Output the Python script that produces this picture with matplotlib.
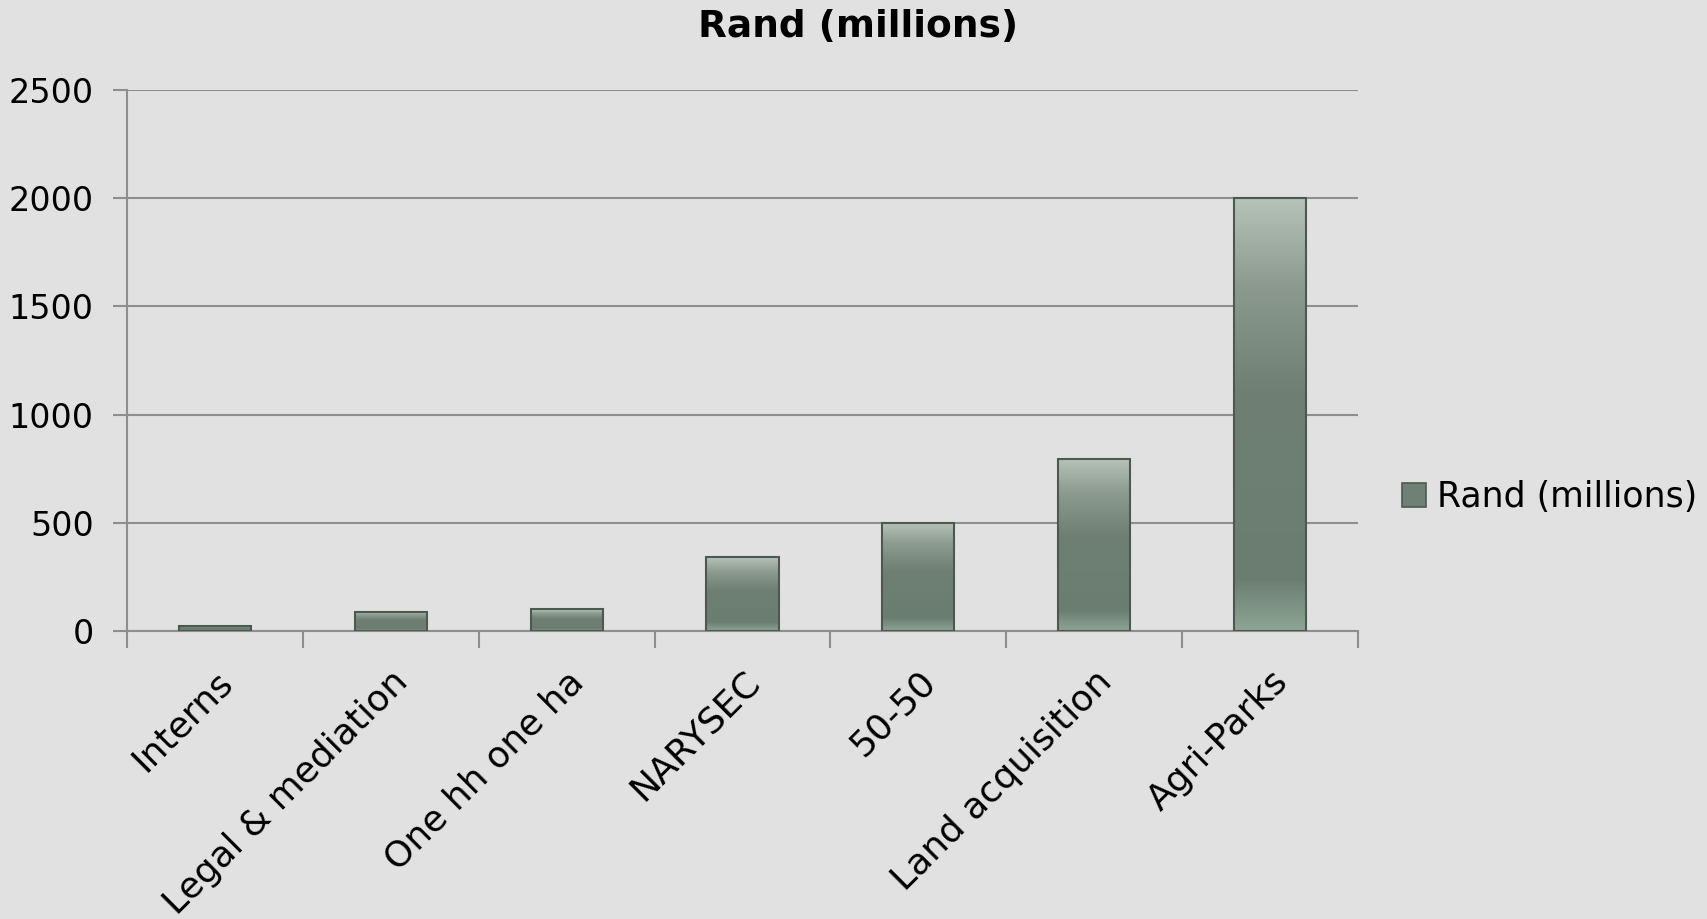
"""Rand (millions) bar chart with gradient-filled bars."""

import matplotlib.pyplot as plt
import numpy as np
from matplotlib.colors import LinearSegmentedColormap
from matplotlib.patches import Patch

categories = ["Interns", "Legal & mediation", "One hh one ha", "NARYSEC",
              "50-50", "Land acquisition", "Agri-Parks"]
values = [25, 90, 100, 340, 500, 795, 2000]
series_name = "Rand (millions)"

BG = "#e1e1e1"
GRID = "#8e8e8e"
EDGE = "#4b5a50"


def main() -> None:
    plt.rcParams["font.family"] = ["DejaVu Sans"]

    fig = plt.figure(figsize=(17.07, 9.19), dpi=100, facecolor=BG)
    ax = fig.add_axes([127 / 1707, 1 - 631 / 919, (1358 - 127) / 1707, (631 - 90) / 919])
    ax.set_facecolor(BG)

    x = np.arange(len(categories))
    bars = ax.bar(x, values, width=0.41, color="none", edgecolor=EDGE, linewidth=1.5, zorder=3)

    cmap = LinearSegmentedColormap.from_list(
        "bar", [(0.0, "#8da595"), (0.12, "#6b7d71"), (0.55, "#6f7f74"),
                (0.8, "#8c9a8f"), (1.0, "#b7c3b8")])
    grad = np.linspace(0, 1, 256).reshape(-1, 1)
    for rect in bars:
        x0, y0 = rect.get_x(), rect.get_y()
        w, h = rect.get_width(), rect.get_height()
        im = ax.imshow(grad, cmap=cmap, origin="lower", aspect="auto",
                       extent=(x0, x0 + w, y0, y0 + h), zorder=2)
        im.set_clip_path(rect)

    ax.set_xlim(-0.5, len(categories) - 0.5)
    ax.set_ylim(0, 2500)
    ax.set_yticks(np.arange(0, 2501, 500))
    ax.yaxis.grid(True, color=GRID, linewidth=1.5, zorder=1)
    ax.set_axisbelow(True)

    # category boundaries carry the tick marks, centres carry the labels
    ax.set_xticks(np.arange(-0.5, len(categories), 1.0))
    ax.set_xticklabels([])
    ax.set_xticks(x, minor=True)
    ax.set_xticklabels(categories, minor=True, rotation=45, ha="right",
                       rotation_mode="anchor", fontsize=26)
    ax.tick_params(axis="x", which="major", length=12, width=1.5, color=GRID)
    ax.tick_params(axis="x", which="minor", length=0, pad=24)
    ax.tick_params(axis="y", length=10, width=1.5, color=GRID, labelsize=24, pad=14)

    for side in ("top", "right"):
        ax.spines[side].set_visible(False)
    for side in ("left", "bottom"):
        ax.spines[side].set_color(GRID)
        ax.spines[side].set_linewidth(1.5)

    fig.text(788 / 1568, 1 - 27 / 919, series_name, ha="center", va="center",
             fontsize=27, fontweight="bold")

    handle = Patch(facecolor="#6f8075", edgecolor=EDGE, linewidth=1.2)
    fig.legend([handle], [series_name], loc="center left",
               bbox_to_anchor=(1402 / 1707, 1 - 497 / 919), frameon=False,
               fontsize=25, handlelength=0.7, handleheight=0.7, handletextpad=0.3,
               borderaxespad=0, borderpad=0)

    fig.savefig("out.png", dpi=100, facecolor=BG)


if __name__ == "__main__":
    main()
